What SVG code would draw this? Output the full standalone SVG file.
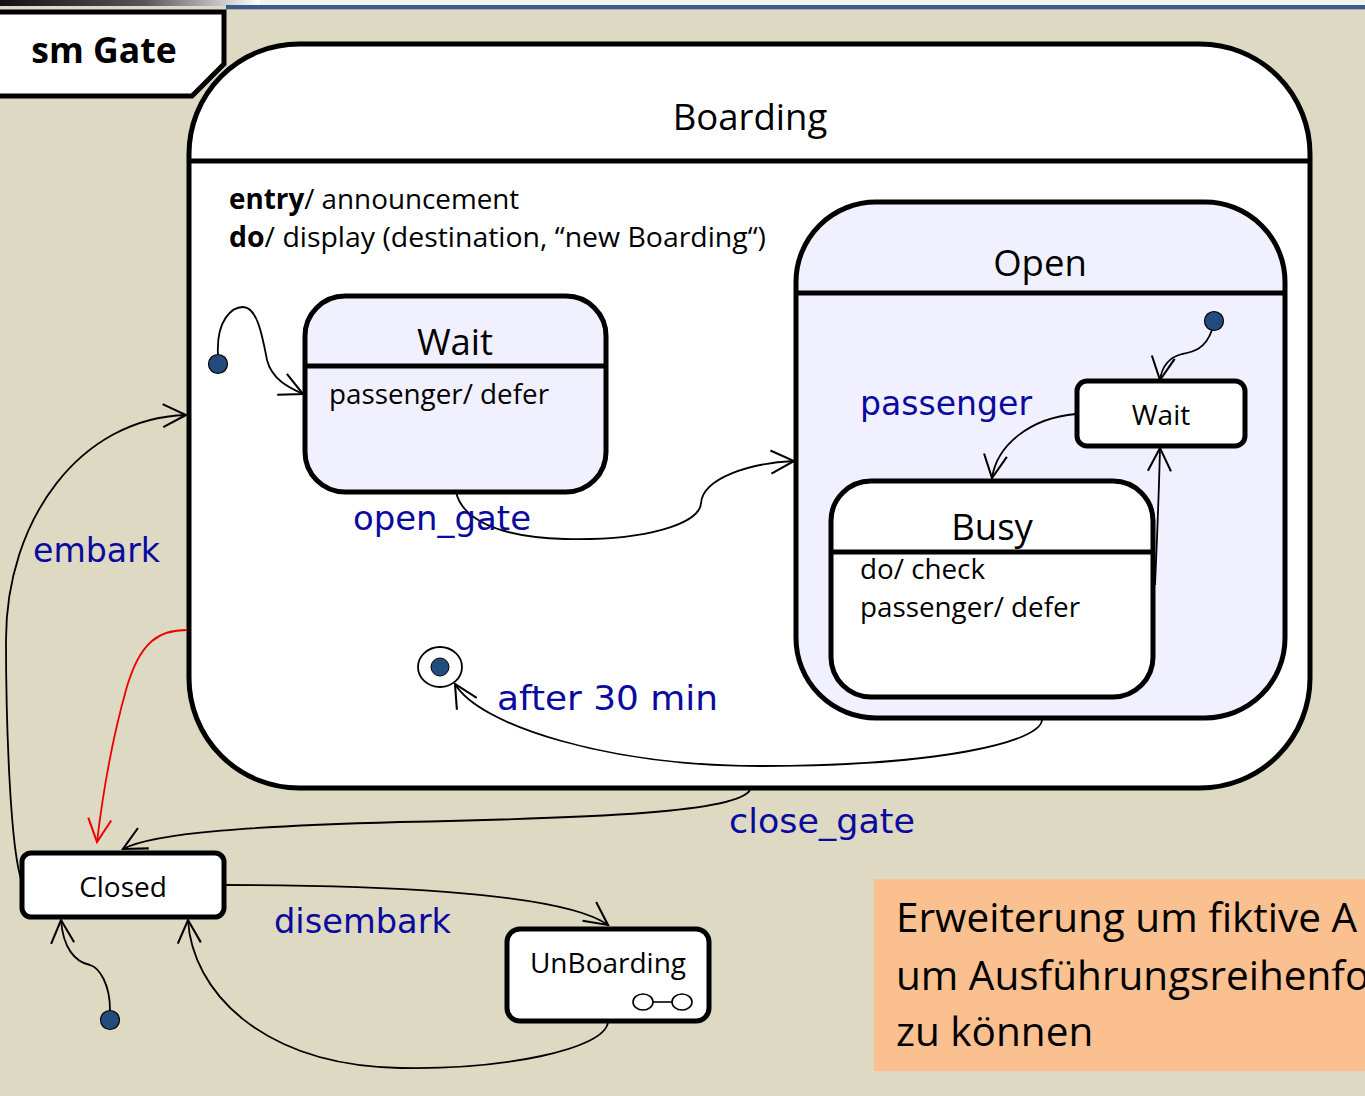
<svg xmlns="http://www.w3.org/2000/svg" width="1365" height="1096" viewBox="0 0 1365 1096">
  <style>
    .state { stroke: #000; stroke-width: 5; }
    .sep { stroke: #000; stroke-width: 5; }
    .conn { fill: none; stroke: #000; stroke-width: 1.8; }
    .name { font-family: "Open Sans", "Liberation Sans", sans-serif; fill: #000; }
    .title { font-size: 36.5px; }
    .small { font-size: 28px; }
    .body { font-family: "Open Sans", "Liberation Sans", sans-serif; fill: #000; font-size: 27.8px; }
    .lbl { font-family: "DejaVu Sans", "Liberation Sans", sans-serif; fill: #0A0A9E; font-size: 34px; }
    .init { fill: #234B7E; stroke: #000; stroke-width: 1.2; }
  </style>
  <defs>
    <linearGradient id="topfade" x1="0" y1="0" x2="1" y2="0">
      <stop offset="0" stop-color="#111"/>
      <stop offset="0.55" stop-color="#555"/>
      <stop offset="1" stop-color="#fff"/>
    </linearGradient>
    <marker id="open" markerUnits="userSpaceOnUse" markerWidth="30" markerHeight="30" viewBox="-22 -12 26 24" refX="0" refY="0" orient="auto">
      <path d="M-20,-10 L0,0 L-20,10" fill="none" stroke="#000" stroke-width="1.8"/>
    </marker>
    <marker id="openRed" markerUnits="userSpaceOnUse" markerWidth="30" markerHeight="30" viewBox="-22 -12 26 24" refX="0" refY="0" orient="auto">
      <path d="M-20,-10 L0,0 L-20,10" fill="none" stroke="#E00" stroke-width="1.8"/>
    </marker>
  </defs>

  <!-- page background and top rule -->
  <rect x="0" y="0" width="1365" height="1096" fill="#DDD9C3"/>
  <rect x="0" y="0" width="1365" height="6" fill="#F2F2F2"/>
  <rect x="0" y="0" width="260" height="6" fill="url(#topfade)"/>
  <rect x="226" y="5" width="1139" height="4" fill="#3A5B8A"/>
  <rect x="226" y="9" width="1139" height="1" fill="#A8AAB0"/>

  <!-- frame label -->
  <g id="frame">
    <polygon points="-6,12 224,12 224,64 192,96 -6,96" fill="#fff" stroke="#000" stroke-width="5"/>
    <text x="104" y="63" text-anchor="middle" font-family="Open Sans, Liberation Sans, sans-serif" font-weight="bold" font-size="35.5">sm Gate</text>
  </g>

  <!-- composite state Boarding -->
  <g id="boarding">
    <rect class="state" x="189" y="44" width="1121" height="744" rx="110" ry="110" fill="#fff"/>
    <line class="sep" x1="189" y1="161" x2="1310" y2="161"/>
    <text class="name title" x="750" y="130" text-anchor="middle">Boarding</text>
    <text class="body" x="229" y="209"><tspan font-weight="bold">entry</tspan>/ announcement</text>
    <text class="body" x="229" y="247" textLength="537" lengthAdjust="spacingAndGlyphs"><tspan font-weight="bold">do</tspan>/ display (destination, “new Boarding“)</text>
  </g>

  <g id="wait">
    <rect class="state" x="305" y="296" width="301" height="196" rx="40" ry="40" fill="#F0F0FF"/>
    <line class="sep" x1="305" y1="366" x2="608" y2="366"/>
    <text class="name title" x="455" y="355" text-anchor="middle">Wait</text>
    <text class="body" x="329" y="404">passenger/ defer</text>
  </g>

  <g id="open-state">
    <rect class="state" x="796" y="202" width="489" height="516" rx="80" ry="80" fill="#F0F0FF"/>
    <line class="sep" x1="796" y1="293" x2="1283" y2="293"/>
    <text class="name title" x="1040" y="276" text-anchor="middle">Open</text>
  </g>

  <g id="open-wait">
    <rect class="state" x="1077" y="381" width="168" height="65" rx="10" ry="10" fill="#fff"/>
    <text class="name small" x="1161" y="425" text-anchor="middle">Wait</text>
  </g>

  <g id="busy">
    <rect class="state" x="831" y="481" width="322" height="216" rx="40" ry="40" fill="#fff"/>
    <line class="sep" x1="831" y1="552" x2="1153" y2="552"/>
    <text class="name title" x="992" y="540" text-anchor="middle">Busy</text>
    <text class="body" x="860" y="579">do/ check</text>
    <text class="body" x="860" y="617">passenger/ defer</text>
  </g>

  <g id="final">
    <ellipse cx="440" cy="667" rx="22" ry="20" fill="#fff" stroke="#000" stroke-width="1.8"/>
    <circle cx="440" cy="667" r="9" fill="#234B7E" stroke="#000" stroke-width="1"/>
  </g>

  <g id="closed">
    <rect class="state" x="22" y="853" width="202" height="64" rx="9" ry="9" fill="#fff"/>
    <text class="name small" x="123" y="897" text-anchor="middle">Closed</text>
  </g>

  <g id="unboarding">
    <rect class="state" x="507" y="929" width="202" height="92" rx="13" ry="13" fill="#fff"/>
    <text class="name small" x="608" y="973" text-anchor="middle">UnBoarding</text>
    <ellipse cx="643" cy="1002" rx="10" ry="8" fill="none" stroke="#000" stroke-width="1.6"/>
    <ellipse cx="682" cy="1002" rx="10" ry="8" fill="none" stroke="#000" stroke-width="1.6"/>
    <line x1="653" y1="1002" x2="672" y2="1002" stroke="#000" stroke-width="1.6"/>
  </g>

  <!-- initial pseudostates -->
  <g id="init-boarding"><circle class="init" cx="218" cy="364" r="9.5"/></g>
  <g id="init-open"><circle class="init" cx="1214" cy="321" r="9.5"/></g>
  <g id="init-top"><circle class="init" cx="110" cy="1020" r="9.5"/></g>

  <!-- note, running off the right edge of the page -->
  <g id="note">
    <rect x="874" y="879" width="500" height="192" fill="#FAC090"/>
    <text class="name" font-size="40.5" x="896" y="932">Erweiterung um fiktive A</text>
    <text class="name" font-size="40.5" x="896" y="990">um Ausführungsreihenfo</text>
    <text class="name" font-size="40.5" x="896" y="1046">zu können</text>
  </g>

  <!-- transitions -->
  <g id="connectors">
    <path class="conn" marker-end="url(#open)" d="M218,355 C216,320 232,307 243,307 C258,307 263,340 267,360 C272,380 290,388 303,394"/>
    <path class="conn" marker-end="url(#open)" d="M456,492 C462,518 495,537 565,539 C645,541 700,524 701,503 C703,478 750,463 794,461"/>
    <path class="conn" marker-end="url(#open)" d="M1212,330 C1205,350 1192,352 1182,354 C1170,357 1162,366 1160,380"/>
    <path class="conn" marker-end="url(#open)" d="M1076,414 C1030,418 997,445 992,478"/>
    <path class="conn" marker-end="url(#open)" d="M1155,585 C1157,540 1159,490 1160,448"/>
    <path class="conn" marker-end="url(#open)" d="M1042,720 C1040,742 940,766 760,766 C610,766 480,726 455,684"/>
    <path class="conn" marker-end="url(#open)" d="M750,790 C738,812 600,818 400,822 C260,826 155,832 123,849"/>
    <path class="conn" marker-end="url(#open)" d="M22,882 C10,850 6,720 6,640 C6,520 80,418 186,415"/>
    <path class="conn" style="stroke:#E00" marker-end="url(#openRed)" d="M187,630 C160,630 140,640 126,690 C112,740 102,800 97,842"/>
    <path class="conn" marker-end="url(#open)" d="M110,1010 C110,985 100,968 90,965 C75,962 63,948 61,920"/>
    <path class="conn" marker-end="url(#open)" d="M226,885 C350,885 560,890 608,925"/>
    <path class="conn" marker-end="url(#open)" d="M608,1022 C605,1050 500,1070 400,1068 C260,1065 192,990 188,920"/>
  </g>

  <!-- transition labels -->
  <g id="labels">
    <text class="lbl" x="860" y="415" textLength="172" lengthAdjust="spacingAndGlyphs">passenger</text>
    <text class="lbl" x="353" y="530" textLength="178" lengthAdjust="spacingAndGlyphs">open_gate</text>
    <text class="lbl" x="497" y="710" textLength="221" lengthAdjust="spacingAndGlyphs">after 30 min</text>
    <text class="lbl" x="729" y="833" textLength="186" lengthAdjust="spacingAndGlyphs">close_gate</text>
    <text class="lbl" x="33" y="562" textLength="127" lengthAdjust="spacingAndGlyphs">embark</text>
    <text class="lbl" x="274" y="933" textLength="177" lengthAdjust="spacingAndGlyphs">disembark</text>
  </g>
</svg>
